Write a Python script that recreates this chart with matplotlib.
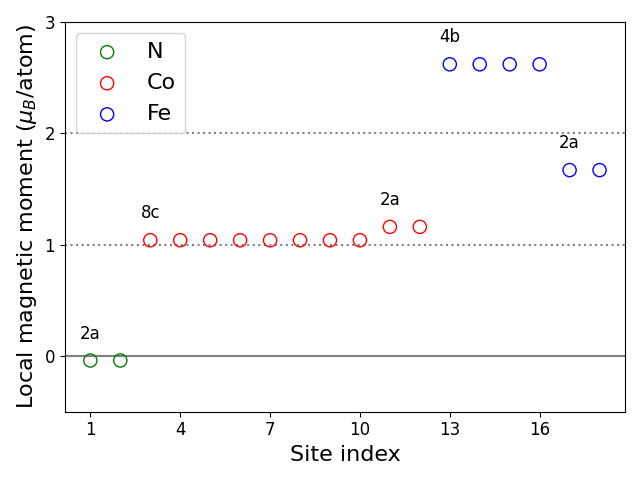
import matplotlib.pyplot as plt
import numpy as np

# site indices and moments per element
n_sites = [1, 2]
n_moments = [-0.04, -0.04]
co_sites = [3, 4, 5, 6, 7, 8, 9, 10, 11, 12]
co_moments = [1.04, 1.04, 1.04, 1.04, 1.04, 1.04, 1.04, 1.04, 1.16, 1.16]
fe_sites = [13, 14, 15, 16, 17, 18]
fe_moments = [2.62, 2.62, 2.62, 2.62, 1.67, 1.67]

# Wyckoff labels (placed above first site of each group)
label_text = ["2a", "8c", "2a", "4b", "2a"]
label_site = [1, 3, 11, 13, 17]
label_moment = [-0.04, 1.04, 1.16, 2.62, 1.67]


def main():
	fig, ax = plt.subplots(figsize=(6.4, 4.8))
	ax.axhline(0, color='gray', lw=1.5)
	ax.axhline(1, color='gray', ls=':', lw=1.5)
	ax.axhline(2, color='gray', ls=':', lw=1.5)

	ax.scatter(n_sites, n_moments, s=90, facecolors='none', edgecolors='green', label='N', zorder=3)
	ax.scatter(co_sites, co_moments, s=90, facecolors='none', edgecolors='red', label='Co', zorder=3)
	ax.scatter(fe_sites, fe_moments, s=90, facecolors='none', edgecolors='blue', label='Fe', zorder=3)

	for t, x, y in zip(label_text, label_site, label_moment):
		ax.text(x, y + 0.16, t, ha='center', va='bottom', fontsize=12)

	ax.set_ylim(-0.5, 3)
	ax.set_xticks([1, 4, 7, 10, 13, 16])
	ax.set_yticks([0, 1, 2, 3])
	ax.tick_params(labelsize=12)
	ax.set_xlabel('Site index', fontsize=16)
	ax.set_ylabel(r'Local magnetic moment ($\mu_B$/atom)', fontsize=16)
	ax.legend(loc='upper left', fontsize=16)
	fig.tight_layout()
	fig.savefig('out.png', dpi=100)


if __name__ == "__main__":
	main()
